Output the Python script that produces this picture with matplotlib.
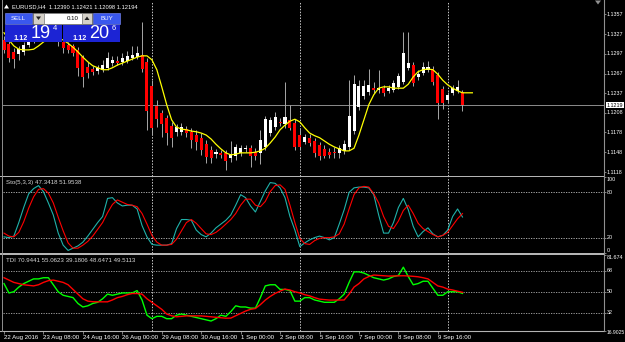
import matplotlib
matplotlib.use('Agg')
import matplotlib.pyplot as plt
from matplotlib.patches import Rectangle, Polygon
import numpy as np

# ---------------- data ----------------
opens = [1.1318,1.1312,1.1300,1.1297,1.1300,1.1310,1.1317,1.1324,1.1333,1.1327,
         1.1336,1.1324,1.1315,1.1310,1.1309,1.1303,1.1292,1.1277,1.1274,1.1271,
         1.1273,1.1276,1.1283,1.1286,1.1285,1.1286,1.1291,1.1292,1.1295,1.1285,
         1.1248,1.1218,1.1207,1.1200,1.1188,1.1179,1.1179,1.1183,1.1179,1.1174,
         1.1170,1.1160,1.1151,1.1145,1.1147,1.1147,1.1139,1.1142,1.1147,1.1153,
         1.1154,1.1148,1.1147,1.1156,1.1177,1.1186,1.1194,1.1191,1.1197,1.1192,
         1.1174,1.1163,1.1170,1.1165,1.1159,1.1153,1.1148,1.1148,1.1147,1.1150,
         1.1156,1.1180,1.1216,1.1233,1.1239,1.1245,1.1242,1.1245,1.1241,1.1242,
         1.1247,1.1254,1.1276,1.1280,1.1262,1.1268,1.1273,1.1274,1.1265,1.1244,
         1.1227,1.1238,1.1241,1.12390]
highs = [1.1324,1.1318,1.1306,1.1309,1.1315,1.1321,1.1330,1.1339,1.1338,1.1342,
         1.1341,1.1329,1.1320,1.1315,1.1312,1.1307,1.1295,1.1285,1.1279,1.1280,
         1.1288,1.1300,1.1294,1.1294,1.1298,1.1301,1.1309,1.1309,1.1345,1.1291,
         1.1257,1.1227,1.1212,1.1204,1.1194,1.1191,1.1192,1.1188,1.1185,1.1182,
         1.1177,1.1166,1.1157,1.1153,1.1151,1.1151,1.1165,1.1160,1.1159,1.1159,
         1.1159,1.1154,1.1182,1.1203,1.1201,1.1209,1.1200,1.1254,1.1220,1.1198,
         1.1185,1.1176,1.1176,1.1170,1.1163,1.1159,1.1154,1.1156,1.1159,1.1166,
         1.1257,1.1265,1.1257,1.1257,1.1274,1.1254,1.1273,1.1250,1.1250,1.1257,
         1.1268,1.1330,1.1330,1.1285,1.1273,1.1285,1.1286,1.1279,1.1270,1.1248,
         1.1239,1.1250,1.1257,1.12421]
lows = [1.1298,1.1285,1.1276,1.1288,1.1295,1.1307,1.1314,1.1321,1.1321,1.1323,
        1.1318,1.1309,1.1298,1.1298,1.1294,1.1263,1.1247,1.1260,1.1265,1.1266,
        1.1270,1.1273,1.1279,1.1280,1.1280,1.1283,1.1288,1.1289,1.1270,1.1182,
        1.1174,1.1186,1.1171,1.1159,1.1156,1.1173,1.1174,1.1171,1.1154,1.1151,
        1.1144,1.1132,1.1132,1.1139,1.1139,1.1121,1.1133,1.1136,1.1142,1.1148,
        1.1126,1.1136,1.1130,1.1151,1.1173,1.1182,1.1188,1.1185,1.1182,1.1151,
        1.1151,1.1160,1.1157,1.1141,1.1136,1.1139,1.1139,1.1139,1.1139,1.1145,
        1.1151,1.1176,1.1212,1.1229,1.1235,1.1238,1.1238,1.1233,1.1238,1.1239,
        1.1244,1.1251,1.1273,1.1248,1.1257,1.1265,1.1270,1.1250,1.1198,1.1213,
        1.1223,1.1235,1.1238,1.12098]
closes = [1.1303,1.1291,1.1289,1.1304,1.1310,1.1317,1.1324,1.1333,1.1327,1.1336,
          1.1324,1.1315,1.1306,1.1303,1.1298,1.1276,1.1262,1.1268,1.1270,1.1276,
          1.1280,1.1291,1.1288,1.1283,1.1291,1.1294,1.1295,1.1298,1.1274,1.1210,
          1.1185,1.1198,1.1191,1.1177,1.1170,1.1186,1.1186,1.1177,1.1166,1.1163,
          1.1151,1.1141,1.1139,1.1148,1.1144,1.1135,1.1145,1.1156,1.1154,1.1154,
          1.1142,1.1142,1.1166,1.1198,1.1197,1.1201,1.1192,1.1201,1.1185,1.1156,
          1.1156,1.1171,1.1162,1.1147,1.1142,1.1142,1.1144,1.1147,1.1154,1.1160,
          1.1203,1.1251,1.1248,1.1248,1.1250,1.1242,1.1245,1.1238,1.1245,1.1253,
          1.1263,1.1298,1.1283,1.1253,1.1266,1.1277,1.1277,1.1254,1.1223,1.1223,
          1.1235,1.1245,1.1247,1.12194]
ma_line = [1.1329,1.1318,1.1309,1.1304,1.1303,1.1303,1.1304,1.1309,1.1315,1.1320,
           1.1323,1.1321,1.1318,1.1313,1.1307,1.1300,1.1292,1.1285,1.1279,1.1276,
           1.1273,1.1273,1.1276,1.1280,1.1283,1.1286,1.1289,1.1292,1.1294,1.1294,
           1.1288,1.1273,1.1247,1.1220,1.1197,1.1186,1.1183,1.1182,1.1180,1.1179,
           1.1177,1.1174,1.1168,1.1160,1.1153,1.1147,1.1144,1.1145,1.1147,1.1147,
           1.1147,1.1148,1.1150,1.1154,1.1162,1.1171,1.1182,1.1189,1.1195,1.1198,
           1.1194,1.1185,1.1177,1.1173,1.1170,1.1165,1.1160,1.1156,1.1153,1.1150,
           1.1150,1.1154,1.1174,1.1197,1.1220,1.1235,1.1245,1.1247,1.1247,1.1245,
           1.1245,1.1245,1.1251,1.1262,1.1270,1.1273,1.1274,1.1273,1.1266,1.1257,
           1.1250,1.1245,1.1241,1.1238,1.1238,1.1238]
sto_main = [21,20,22,40,60,78,85,89,81,66,50,26,10,3,6,9,14,22,31,40,
            48,72,73,66,62,63,63,58,36,21,11,10,10,10,12,32,44,44,43,30,
            24,21,26,33,38,43,50,63,77,73,62,54,68,82,93,92,86,73,48,30,
            8,13,17,20,22,20,17,20,38,57,80,86,87,87,86,77,50,26,26,40,
            60,72,57,35,21,28,33,25,21,23,30,48,58,47.3418]
sto_signal = [26,22,21,27,41,59,74,84,85,79,66,47,29,13,6,6,10,15,22,31,
              40,53,64,70,67,64,63,61,52,38,23,14,10,10,11,18,29,40,44,39,
              32,25,24,27,32,38,44,52,63,71,71,63,61,68,81,89,90,84,63,40,
              19,12,11,16,19,20,20,21,25,38,58,77,86,88,87,78,66,48,35,32,
              42,56,63,52,39,32,28,24,21,23,27,36,45,51.9538]
tdi_green = [57,49,50,54,57,59,61,61,62,62,56,50,47,46,45,40,37,38,40,41,
             44,48,47,48,49,49,49,51,43,30,27,29,29,27,27,30,31,30,29,28,
             27,26,25,27,30,29,33,38,37,37,36,36,45,55,56,56,52,52,51,42,
             42,45,45,43,42,41,41,41,44,48,58,67,67,66,64,62,61,60,61,63,
             64,71,63,56,57,59,59,53,47,47,50,50,50,48.6471]
tdi_red = [62,60,58,57,56,55.5,55,56,58,59.5,60,59,58,56,52,48,44,42,41.5,41.4,
           41.4,41.4,43,45,46,47.5,48.5,48.5,48,44,41,38,35,31,29.5,28.6,29,29.4,29.4,29.4,
           29.4,29,28.6,28.2,27.8,27.4,27.5,29.5,31.5,33.5,35,35.7,39,42.9,46,48.6,50.5,52.3,51.5,50,
           49,47.5,46.5,45,43.7,43.3,42.9,42.9,42.9,43,48,54,57,61,63,64.3,64,63.7,63.4,63.5,
           63.6,63.7,63.5,63.2,62.8,62,61,58,55,54,52.3,51.5,50.5,49.5113]

time_tick_bars = [0, 8, 16, 24, 32, 40, 48, 56, 64, 72, 80, 88]
time_tick_labels = ['22 Aug 2016', '23 Aug 08:00', '24 Aug 16:00', '26 Aug 00:00',
                    '29 Aug 08:00', '30 Aug 16:00', '1 Sep 00:00', '2 Sep 08:00',
                    '5 Sep 16:00', '7 Sep 00:00', '8 Sep 08:00', '9 Sep 16:00']
separator_bars = [30, 60, 90]
price_ticks = [1.1357, 1.1327, 1.1297, 1.1267, 1.1237, 1.1208, 1.1178, 1.1148, 1.1118]
price_tick_labels = ['1.1357', '1.1327', '1.1297', '1.1267', '1.1237', '1.1208', '1.1178', '1.1148', '1.1118']
bid_price = 1.12194
sto_levels = [80, 20]
sto_ticks = [100, 80, 20, 0]
tdi_levels = [68, 50, 32]
tdi_ticks = [81.674, 68, 50, 32, 16.9025]
tdi_tick_labels = ['81.674', '68', '50', '32', '16.9025']

# ---------------- figure ----------------
FONT = 'Liberation Sans'
FS = 4.4
FSR = 3.9   # right-axis labels
W, H = 625, 342
fig = plt.figure(figsize=(W / 100, H / 100), dpi=100, facecolor='black')

def px_axes(x0, y0, x1, y1, z=1):
    a = fig.add_axes([x0 / W, 1 - y1 / H, (x1 - x0) / W, (y1 - y0) / H], zorder=z)
    a.set_facecolor('black')
    for s in a.spines.values():
        s.set_visible(False)
    return a

X0, X1 = 3, 604
PXB = 4.93
xmin = -(4 - X0) / PXB
xmax = xmin + (X1 - X0) / PXB
LX = 1 + 2.5 / (X1 - X0)   # label x position (axes fraction)

ax_main = px_axes(X0, 2, X1, 175.5)
ax_sto = px_axes(X0, 177.3, X1, 252.7)
ax_tdi = px_axes(X0, 254.7, X1, 330.5)

for a in (ax_main, ax_sto, ax_tdi):
    a.set_xlim(xmin, xmax)
    a.tick_params(axis='both', which='both', left=False, labelleft=False,
                  bottom=False, labelbottom=False, right=True, labelright=False,
                  length=1.5, width=0.5, color='#b0b0b0', direction='out')
    for b in separator_bars:
        a.axvline(b, color='#c8c8c8', lw=0.7, ls=(0, (1.5, 1.5)), zorder=1)

# main chart
ax_main.set_ylim(1.1118 - 3.5 / 6600, 1.1118 + 170 / 6600)
idx = np.arange(len(opens))
o = np.array(opens); c = np.array(closes); h = np.array(highs); l = np.array(lows)
up = c >= o
ax_main.vlines(idx, l, h, color='#a8a8a8', lw=0.7, zorder=2)
ax_main.bar(idx, np.maximum(np.abs(c - o), 0.00007), width=0.62, bottom=np.minimum(o, c),
            color=np.where(up, '#ffffff', '#ff0000'), edgecolor='none', zorder=3)
ax_main.plot(np.arange(len(ma_line)), ma_line, color='#ffff00', lw=0.9, zorder=4)
ax_main.axhline(bid_price, color='#8c8c8c', lw=0.7, zorder=1.5)
ax_main.set_yticks(price_ticks)
tr = ax_main.get_yaxis_transform()
for v, s in zip(price_ticks, price_tick_labels):
    ax_main.text(LX, v, s, transform=tr, color='white', fontsize=FSR,
                 family=FONT, va='center', ha='left', clip_on=False)
ax_main.text(LX, bid_price, '1.1219', transform=tr, color='black', fontsize=FSR,
             family=FONT, va='center', ha='left', clip_on=False,
             bbox=dict(boxstyle='square,pad=0.12', fc='white', ec='white', lw=0))

# stochastic
ax_sto.set_ylim(0, 100)
ax_sto.plot(np.arange(len(sto_main)), sto_main, color='#20b2aa', lw=0.8, zorder=3)
ax_sto.plot(np.arange(len(sto_signal)), sto_signal, color='#ff0000', lw=0.8, zorder=4)
for lv in sto_levels:
    ax_sto.axhline(lv, color='#c0c0c0', lw=0.6, ls=(0, (1.5, 1.5)), zorder=1)
ax_sto.set_yticks(sto_ticks)
tr = ax_sto.get_yaxis_transform()
for v in sto_ticks:
    va = 'top' if v == 100 else ('bottom' if v == 0 else 'center')
    ax_sto.text(LX, v, str(v), transform=tr, color='white', fontsize=FSR,
                family=FONT, va=va, ha='left', clip_on=False)
ax_sto.text(3 / 601, 0.935, 'Sto(5,3,3) 47.3418 51.9538', transform=ax_sto.transAxes,
            color='#d8d8d8', fontsize=FS, family=FONT, va='center', ha='left')

# TDI
ax_tdi.set_ylim(16.9025, 81.674)
ax_tdi.plot(np.arange(len(tdi_green)), tdi_green, color='#00ff00', lw=1.0, zorder=3)
ax_tdi.plot(np.arange(len(tdi_red)), tdi_red, color='#ff0000', lw=1.0, zorder=4)
for lv in tdi_levels:
    ax_tdi.axhline(lv, color='#b0b0b0', lw=0.6, ls=(0, (1.5, 1.5)), zorder=1)
ax_tdi.set_yticks(tdi_ticks)
tr = ax_tdi.get_yaxis_transform()
for v, s in zip(tdi_ticks, tdi_tick_labels):
    va = 'top' if v in (tdi_ticks[0], tdi_ticks[-1]) else 'center'
    ax_tdi.text(LX, v, s, transform=tr, color='white', fontsize=FSR * (0.93 if len(s) > 6 else 1),
                family=FONT, va=va, ha='left', clip_on=False)
ax_tdi.text(3 / 601, 0.92, 'TDI 70.9441 55.0623 39.1806 48.6471 49.5113',
            transform=ax_tdi.transAxes, color='#d8d8d8', fontsize=FS, family=FONT,
            va='center', ha='left')
ax_tdi.set_xticks(time_tick_bars)
ax_tdi.set_xticklabels(time_tick_labels)
ax_tdi.tick_params(axis='x', bottom=True, labelbottom=True, length=2, width=0.5,
                   color='#b0b0b0', labelcolor='white', labelsize=FS, pad=1.2)
for t in ax_tdi.get_xticklabels():
    t.set_ha('left')
    t.set_family(FONT)

# ---------------- overlay (frame, trading panel) ----------------
ov = fig.add_axes([0, 0, 1, 1], zorder=10)
ov.set_xlim(0, W); ov.set_ylim(H, 0); ov.axis('off'); ov.patch.set_alpha(0)
frame = '#b4b4b4'
ov.add_patch(Rectangle((0, 175.5), 604, 1.8, fc=frame, ec='none'))
ov.add_patch(Rectangle((0, 252.7), 604, 2.0, fc=frame, ec='none'))
ov.plot([0, 604], [330.8, 330.8], color=frame, lw=0.8)
ov.plot([604.3, 604.3], [0, 331], color='#909090', lw=0.8)
ov.plot([2.2, 2.2], [0, 331], color='#909090', lw=0.7)
ov.add_patch(Polygon([[595, 0.5], [601, 0.5], [598, 4.5]], fc='#909090', ec='none'))

# title
ov.add_patch(Polygon([[4, 8.5], [9, 8.5], [6.5, 4.5]], fc='white', ec='none'))
ov.text(12, 6.5, 'EURUSD,H4  1.12390 1.12421 1.12098 1.12194', color='white',
        fontsize=4.15, family=FONT, va='center', ha='left')

# one-click trading panel
btn = '#3a58ee'
ov.add_patch(Rectangle((5, 13), 27, 11, fc=btn, ec='#8090ff', lw=0.4))
ov.text(18.5, 18.5, 'SELL', color='white', fontsize=FS, family=FONT, va='center', ha='center')
ov.add_patch(Rectangle((33, 13), 11, 11, fc='#d4d0c8', ec='#808080', lw=0.4))
ov.add_patch(Polygon([[36, 16.5], [41, 16.5], [38.5, 20]], fc='#202020', ec='none'))
ov.add_patch(Rectangle((44, 13), 38, 11, fc='white', ec='#808080', lw=0.4))
ov.text(79, 18.5, '0.10', color='black', fontsize=FS, family=FONT, va='center', ha='right')
ov.add_patch(Rectangle((82, 13), 10, 11, fc='#d4d0c8', ec='#808080', lw=0.4))
ov.add_patch(Polygon([[84.5, 20], [89.5, 20], [87, 16.5]], fc='#202020', ec='none'))
ov.add_patch(Rectangle((93, 13), 27, 11, fc=btn, ec='#8090ff', lw=0.4))
ov.text(106.5, 18.5, 'BUY', color='white', fontsize=FS, family=FONT, va='center', ha='center')
big = '#1c24d4'
ov.add_patch(Rectangle((5, 25), 57, 17, fc=big, ec='none'))
ov.add_patch(Rectangle((63, 25), 57, 17, fc=big, ec='none'))
ov.text(13, 38, '1.12', color='white', fontsize=5.2, family=FONT, weight='bold', va='center', ha='left')
ov.text(31, 34, '19', color='white', fontsize=13, family=FONT, va='center', ha='left')
ov.text(53, 28.5, '4', color='white', fontsize=5.5, family=FONT, va='center', ha='left')
ov.text(72, 38, '1.12', color='white', fontsize=5.2, family=FONT, weight='bold', va='center', ha='left')
ov.text(89, 34, '20', color='white', fontsize=13, family=FONT, va='center', ha='left')
ov.text(112, 28.5, '6', color='white', fontsize=5.5, family=FONT, va='center', ha='left')

fig.savefig('out.png', dpi=100, facecolor='black')
